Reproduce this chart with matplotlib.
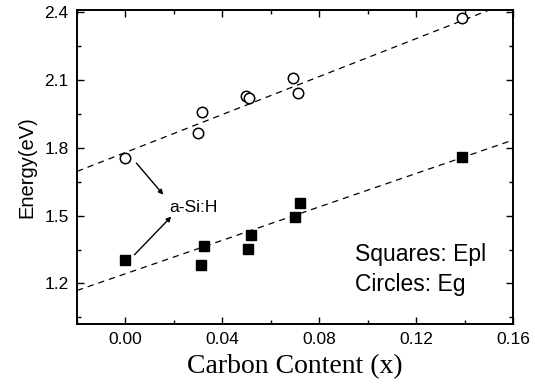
import matplotlib
matplotlib.use("Agg")
import matplotlib.pyplot as plt
from matplotlib.ticker import MultipleLocator
import numpy as np

plt.rcParams['font.family'] = ['Liberation Sans', 'DejaVu Sans']

# Data
circle_x = [0.000, 0.030, 0.0316, 0.0496, 0.051, 0.0693, 0.0714, 0.139]
circle_y = [1.756, 1.867, 1.960, 2.029, 2.020, 2.109, 2.042, 2.373]
square_x = [0.000, 0.031, 0.0324, 0.0505, 0.052, 0.0700, 0.0722, 0.139]
square_y = [1.305, 1.282, 1.367, 1.353, 1.416, 1.496, 1.558, 1.760]

# Linear fits drawn in the reference (intercept, slope)
circle_fit = (1.780, 4.20)
square_fit = (1.243, 3.70)
fit_x_range = [-0.02, 0.16]

x_ticks = [0.00, 0.04, 0.08, 0.12, 0.16]
y_ticks = [1.2, 1.5, 1.8, 2.1, 2.4]

fig = plt.figure(figsize=(5.35, 3.90), dpi=100)
ax = fig.add_axes([0.144, 0.169, 0.815, 0.805])

fx = np.array(fit_x_range)
ax.plot(fx, circle_fit[0] + circle_fit[1] * fx, color='black', lw=0.9,
        dashes=(5, 4))
ax.plot(fx, square_fit[0] + square_fit[1] * fx, color='black', lw=0.9,
        dashes=(5, 4))

ax.plot(circle_x, circle_y, linestyle='none', marker='o', markersize=7.5,
        markerfacecolor='white', markeredgecolor='black', markeredgewidth=1.1)
ax.plot(square_x, square_y, linestyle='none', marker='s', markersize=7,
        markerfacecolor='black', markeredgecolor='black')

ax.set_xlim(-0.02, 0.16)
ax.set_ylim(1.02, 2.41)
ax.set_xticks(x_ticks)
ax.set_xticklabels([f"{v:.2f}" for v in x_ticks])
ax.set_yticks(y_ticks)
ax.set_yticklabels([f"{v:.1f}" for v in y_ticks])
ax.xaxis.set_minor_locator(MultipleLocator(0.02))
ax.yaxis.set_minor_locator(MultipleLocator(0.15))
ax.tick_params(which='both', direction='in', top=True, right=True,
               width=1.0, labelsize=12.5, pad=6)
ax.tick_params(which='major', length=5)
ax.tick_params(which='minor', length=3)
for s in ax.spines.values():
    s.set_linewidth(1.4)

ax.set_ylabel('Energy(eV)', fontsize=14.5, labelpad=6)
ax.set_xlabel('Carbon Content (x)', fontsize=20,
              family=['Liberation Serif', 'DejaVu Serif'], labelpad=5)

# Annotation
ax.text(0.018, 1.536, 'a-Si:H', fontsize=12.5, va='center', ha='left')
ax.annotate('', xy=(0.0156, 1.593), xytext=(0.0045, 1.733),
            arrowprops=dict(arrowstyle='-|>', lw=1.0, color='black',
                            mutation_scale=7, shrinkA=0, shrinkB=0))
ax.annotate('', xy=(0.0189, 1.496), xytext=(0.0037, 1.327),
            arrowprops=dict(arrowstyle='-|>', lw=1.0, color='black',
                            mutation_scale=7, shrinkA=0, shrinkB=0))

ax.text(0.0946, 1.327, 'Squares: Epl', fontsize=16.5, va='center', ha='left')
ax.text(0.0946, 1.194, 'Circles: Eg', fontsize=16.5, va='center', ha='left')

fig.savefig('out.png', dpi=100)
